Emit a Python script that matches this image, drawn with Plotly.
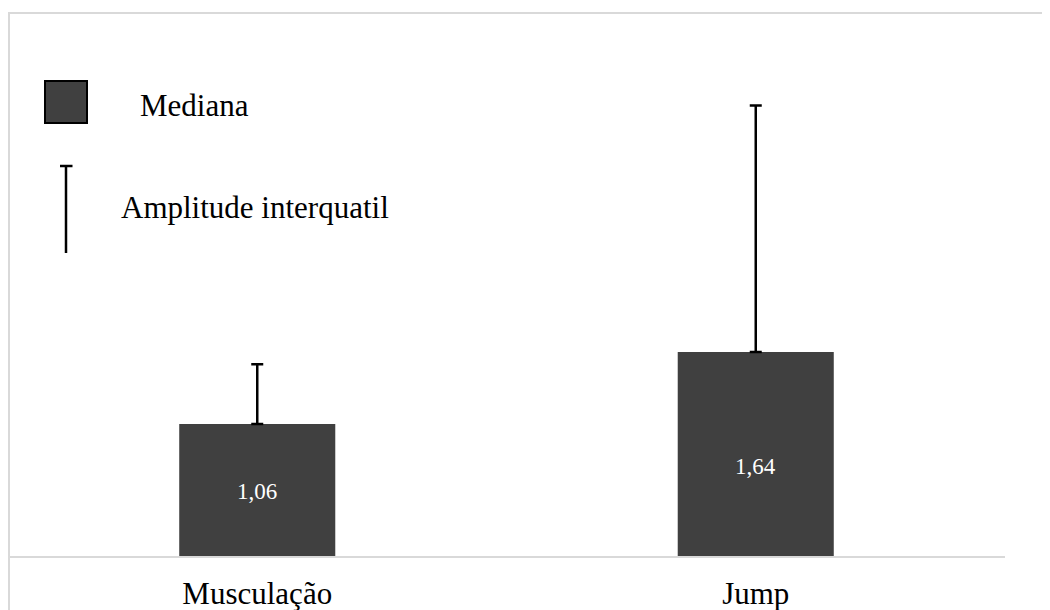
import plotly.graph_objects as go

categories = ["Musculação", "Jump"]
medians = [1.06, 1.64]
iqr_upper = [0.48, 1.98]
value_labels = ["1,06", "1,64"]

BAR_COLOR = "#404040"
FONT = "Liberation Serif, Times New Roman, serif"

# the page body adds an 8 px offset; target coordinates are in screenshot px
OFF = 8
W, H = 1050, 610
plot_left, plot_right, plot_top, plot_bottom = 8, 1005, 13, 556
L = plot_left - OFF
T = plot_top - OFF
R = W - (plot_right - OFF)
B = H - (plot_bottom - OFF)
plot_w = plot_right - plot_left
plot_h = plot_bottom - plot_top
px_per_unit = 124.45
ymax = plot_h / px_per_unit


def px(x):
    return (x - plot_left) / plot_w


def py(y):
    return (plot_bottom - y) / plot_h


fig = go.Figure()
fig.add_trace(go.Bar(
    x=categories,
    y=medians,
    width=0.313,
    marker=dict(color=BAR_COLOR, line=dict(width=0)),
    error_y=dict(type="data", symmetric=False, array=iqr_upper,
                 arrayminus=[0] * len(medians),
                 color="black", thickness=2.5, width=6),
    showlegend=False,
    hoverinfo="skip",
))

annotations = []
label_y = [0.52, 0.72]
for c, t, yy in zip(categories, value_labels, label_y):
    annotations.append(dict(x=c, y=yy, xref="x", yref="y", text=t,
                            showarrow=False,
                            font=dict(family=FONT, size=23, color="white")))

# legend texts
annotations.append(dict(x=px(138), y=py(105), xref="paper", yref="paper",
                        text="Mediana", showarrow=False, xanchor="left",
                        yanchor="middle",
                        font=dict(family=FONT, size=31, color="black")))
annotations.append(dict(x=px(119), y=py(208), xref="paper", yref="paper",
                        text="Amplitude interquatil", showarrow=False,
                        xanchor="left", yanchor="middle",
                        font=dict(family=FONT, size=31, color="black")))

shapes = [
    # outer border (top and left visible)
    dict(type="rect", xref="paper", yref="paper",
         x0=px(9), x1=px(1100), y0=py(700), y1=py(13),
         line=dict(color="#d9d9d9", width=2), fillcolor="rgba(0,0,0,0)",
         layer="below"),
    # legend square
    dict(type="rect", xref="paper", yref="paper",
         x0=px(45), x1=px(87), y0=py(123), y1=py(81),
         line=dict(color="black", width=2), fillcolor=BAR_COLOR),
    # legend error bar
    dict(type="line", xref="paper", yref="paper",
         x0=px(66), x1=px(66), y0=py(253), y1=py(166),
         line=dict(color="black", width=2.5)),
    dict(type="line", xref="paper", yref="paper",
         x0=px(60), x1=px(72.5), y0=py(166), y1=py(166),
         line=dict(color="black", width=2.5)),
]

fig.update_layout(
    width=W, height=H,
    margin=dict(l=L, r=R, t=T, b=B),
    paper_bgcolor="white",
    plot_bgcolor="white",
    xaxis=dict(type="category", range=[-0.5, 1.5], showline=True,
               linecolor="#d9d9d9", linewidth=2, ticks="", showgrid=False,
               zeroline=False, ticklabelstandoff=9,
               tickfont=dict(family=FONT, size=31, color="black")),
    yaxis=dict(range=[0, ymax], visible=False, showgrid=False,
               zeroline=False),
    annotations=annotations,
    shapes=shapes,
)

fig.write_html("out.html")
